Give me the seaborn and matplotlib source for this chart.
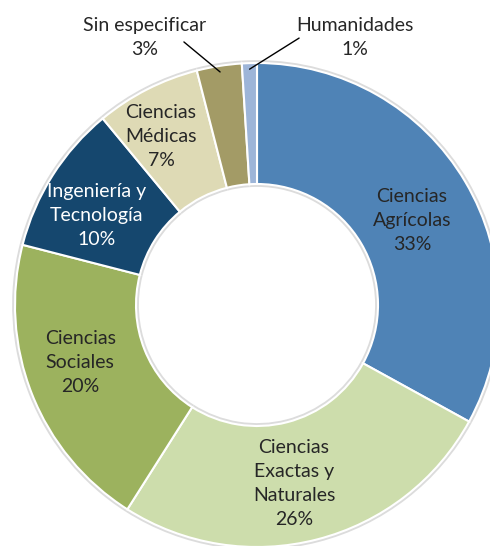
import numpy as np
import matplotlib
matplotlib.use('Agg')
import matplotlib.pyplot as plt
import seaborn as sns

categorias = ['Ciencias\nAgrícolas', 'Ciencias\nExactas y\nNaturales', 'Ciencias\nSociales',
              'Ingeniería y\nTecnología', 'Ciencias\nMédicas', 'Sin especificar', 'Humanidades']
porcentajes = [33, 26, 20, 10, 7, 3, 1]
colores = ['#4F83B6', '#CDDDAC', '#9CB25E', '#15476E', '#DEDAB5', '#A39B66', '#9DB5D8']
texto_colores = ['#262626', '#262626', '#262626', 'white', '#262626', '#262626', '#262626']

sns.set_theme(style='white')
plt.rcParams['font.family'] = ['Lato', 'DejaVu Sans']

fig = plt.figure(figsize=(4.9, 5.46), dpi=100)
ax = fig.add_axes([0, 0, 1, 1])

# sombra suave
ax.pie(porcentajes, startangle=90, counterclock=False, radius=1.012,
       colors=['#dcdcdc'] * len(porcentajes),
       wedgeprops=dict(width=0.524, linewidth=0))
wedges, _ = ax.pie(porcentajes, startangle=90, counterclock=False, radius=1.0,
                   colors=colores,
                   wedgeprops=dict(width=0.5, edgecolor='white', linewidth=1.5))

total = sum(porcentajes)
acum = np.cumsum([0] + porcentajes)
medios = 90 - 360 * (acum[:-1] + np.array(porcentajes) / 2) / total

# posicion de etiquetas internas (radio, desplazamiento angular)
radios = [0.73, 0.755, 0.768, 0.757, 0.803]
ajuste = [-1.9, -2.7, -3.7, 3.3, 2.6]
for i in range(5):
    ang = np.deg2rad(medios[i] + ajuste[i])
    ax.text(radios[i] * np.cos(ang), radios[i] * np.sin(ang),
            f'{categorias[i]}\n{porcentajes[i]}%', ha='center', va='center',
            fontsize=14, linespacing=1.5, color=texto_colores[i])

# etiquetas exteriores con linea guia
externas = {5: ((-0.463, 1.107), (-0.302, 1.087)),
            6: ((0.405, 1.107), (0.174, 1.103))}
for i, (txt_pos, inicio) in externas.items():
    ang = np.deg2rad(medios[i])
    ax.text(*txt_pos, f'{categorias[i]}\n{porcentajes[i]}%', ha='center', va='center',
            fontsize=14, linespacing=1.5, color='#262626')
    ax.annotate('', xy=(0.975 * np.cos(ang), 0.975 * np.sin(ang)), xytext=inicio,
                arrowprops=dict(arrowstyle='-', color='black', lw=1.0,
                                shrinkA=0, shrinkB=0))

ax.set_xlim(-257 / 242, 233 / 242)
ax.set_ylim(-241 / 242, 305 / 242)
ax.set_aspect('equal')
ax.axis('off')

fig.savefig('out.png', dpi=100)
